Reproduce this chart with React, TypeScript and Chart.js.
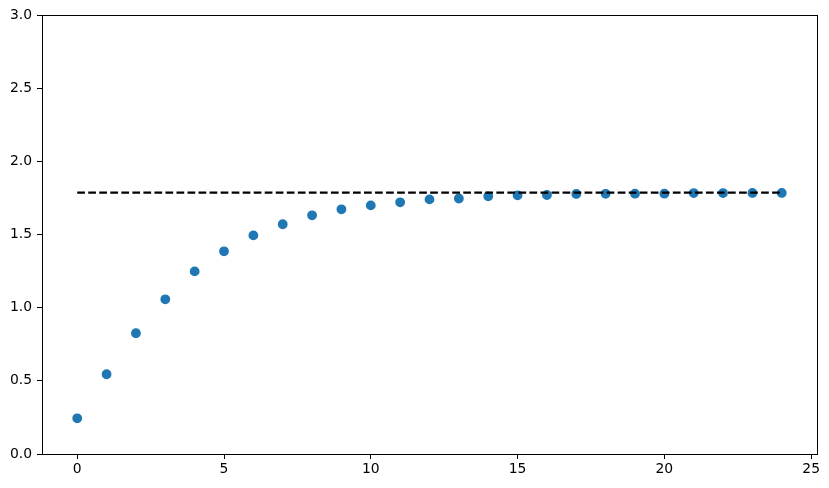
import React, { useEffect, useRef } from "react";
import { Chart, registerables } from "chart.js";

Chart.register(...registerables);

const xValues = [0, 1, 2, 3, 4, 5, 6, 7, 8, 9, 10, 11, 12, 13, 14, 15, 16, 17, 18, 19, 20, 21, 22, 23, 24];
const yValues = [
  0.244, 0.545, 0.825, 1.057, 1.248, 1.385, 1.494, 1.570, 1.631, 1.672,
  1.699, 1.720, 1.740, 1.746, 1.761, 1.768, 1.770, 1.777, 1.778, 1.779,
  1.779, 1.783, 1.783, 1.784, 1.784,
];
const limitValue = 1.786;
const limitRange = [0, 24];
const xTicks = [0, 5, 10, 15, 20, 25];
const yTicks = [0, 0.5, 1.0, 1.5, 2.0, 2.5, 3.0];

const frame = {
  id: "frame",
  afterDraw(chart: any) {
    const { ctx, chartArea } = chart;
    ctx.save();
    ctx.strokeStyle = "#000";
    ctx.lineWidth = 1;
    ctx.strokeRect(
      Math.round(chartArea.left) + 0.5,
      Math.round(chartArea.top) + 0.5,
      Math.round(chartArea.right - chartArea.left),
      Math.round(chartArea.bottom - chartArea.top)
    );
    ctx.restore();
  },
};

export default function App() {
  const ref = useRef<HTMLCanvasElement>(null);
  useEffect(() => {
    document.body.style.margin = "0";
    const font = { family: "DejaVu Sans", size: 13.9 };
    const chart = new Chart(ref.current!, {
      type: "scatter",
      data: {
        datasets: [
          {
            type: "line",
            data: limitRange.map((x) => ({ x, y: limitValue })),
            borderColor: "#000",
            borderWidth: 2.08,
            borderDash: [7.7, 3.33],
            pointRadius: 0,
            fill: false,
            order: 0,
          } as any,
          {
            type: "scatter",
            data: xValues.map((x, i) => ({ x, y: yValues[i] })),
            pointRadius: 4.2,
            pointBackgroundColor: "#1f77b4",
            pointBorderColor: "#1f77b4",
            pointBorderWidth: 1.4,
            order: 1,
          },
        ],
      },
      options: {
        animation: false,
        responsive: false,
        devicePixelRatio: 1,
        layout: { padding: { left: 0, top: 15, right: 12, bottom: 0 } },
        plugins: { legend: { display: false }, tooltip: { enabled: false } },
        scales: {
          x: {
            type: "linear",
            min: -1.2,
            max: 25.2,
            afterBuildTicks: (s: any) => {
              s.ticks = xTicks.map((v) => ({ value: v }));
            },
            afterFit: (s: any) => {
              s.height = 34;
            },
            grid: { drawOnChartArea: false, drawTicks: true, tickLength: 5, color: "#000", tickColor: "#000" },
            border: { display: true, color: "#000", width: 1 },
            ticks: { color: "#000", font, padding: 2, maxRotation: 0, callback: (v: any) => String(v) },
          },
          y: {
            type: "linear",
            min: 0,
            max: 3,
            afterBuildTicks: (s: any) => {
              s.ticks = yTicks.map((v) => ({ value: v }));
            },
            afterFit: (s: any) => {
              s.width = 42;
            },
            grid: { drawOnChartArea: false, drawTicks: true, tickLength: 5, color: "#000", tickColor: "#000" },
            border: { display: true, color: "#000", width: 1 },
            ticks: { color: "#000", font, padding: 5, callback: (v: any) => Number(v).toFixed(1) },
          },
        },
      },
      plugins: [frame],
    });
    return () => chart.destroy();
  }, []);
  return (
    <div style={{ width: 829, height: 488, background: "#fff" }}>
      <canvas ref={ref} width={829} height={488} style={{ display: "block" }} />
    </div>
  );
}
